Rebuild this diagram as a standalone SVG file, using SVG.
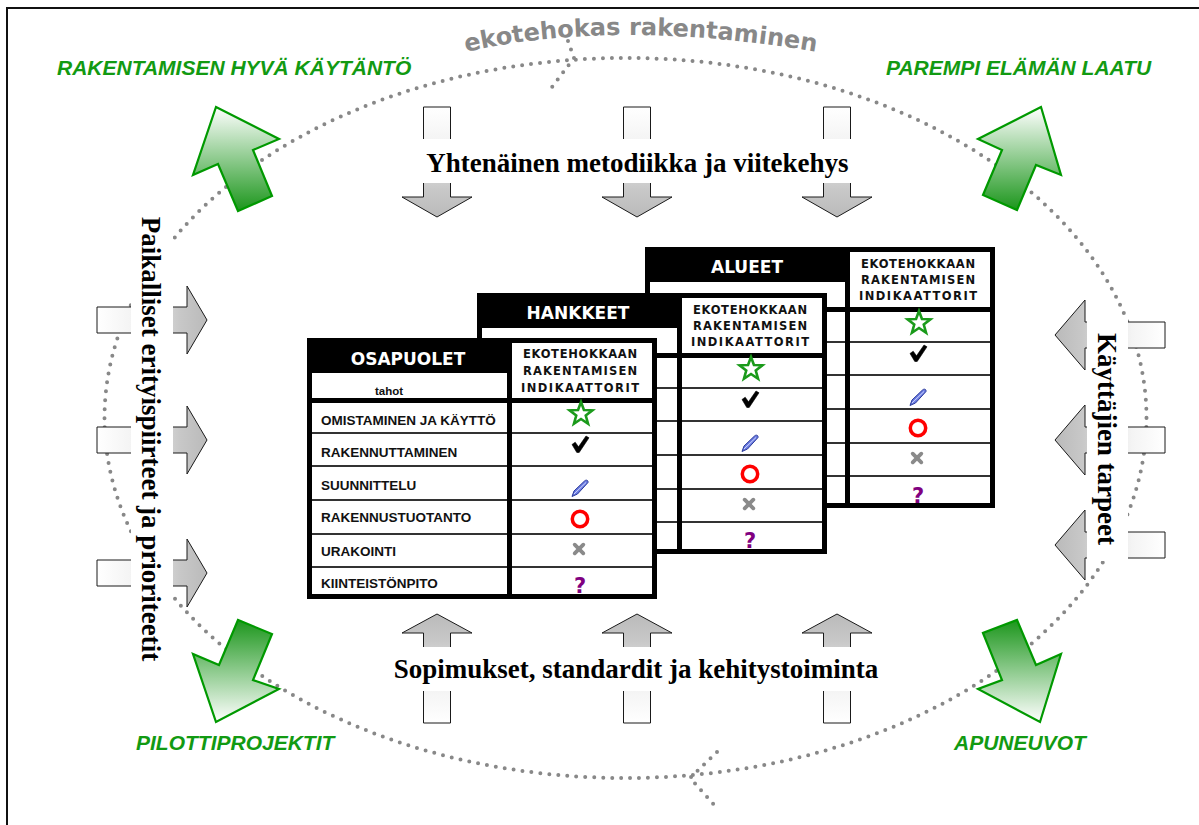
<svg xmlns="http://www.w3.org/2000/svg" width="1199" height="825" viewBox="0 0 1199 825">
<style>
.dot{fill:none;stroke:#888;stroke-width:4;stroke-linecap:round;stroke-dasharray:0 9}
.garr{stroke:#1a1a1a;stroke-width:1}
.grn{stroke:#009900;stroke-width:2.2}
.glabel{font-family:"Liberation Sans",Arial,sans-serif;font-weight:bold;font-style:italic;font-size:21px;fill:#129a12}
.big{font-family:"Liberation Serif","Times New Roman",serif;font-weight:bold;font-size:27px;fill:#000}
.hdr{font-family:"DejaVu Sans",sans-serif;font-weight:bold;font-size:17px;fill:#fff;text-anchor:middle}
.ind{font-family:"DejaVu Sans",sans-serif;font-weight:bold;font-size:11.5px;fill:#111;text-anchor:middle}
.row{font-family:"Liberation Sans",Arial,sans-serif;font-weight:bold;font-size:13.5px;fill:#111}
.q{font-family:"DejaVu Sans",sans-serif;font-weight:bold;font-size:21px;fill:#800080;text-anchor:middle}
.wbox{fill:#fff}
</style>
<defs>
<linearGradient id="gDown" x1="0" y1="0" x2="0" y2="1"><stop offset="0" stop-color="#fff"/><stop offset="0.3" stop-color="#f4f4f4"/><stop offset="0.75" stop-color="#c8c8c8"/><stop offset="1" stop-color="#bababa"/></linearGradient>
<linearGradient id="gUp" x1="0" y1="1" x2="0" y2="0"><stop offset="0" stop-color="#fff"/><stop offset="0.3" stop-color="#f4f4f4"/><stop offset="0.75" stop-color="#c8c8c8"/><stop offset="1" stop-color="#bababa"/></linearGradient>
<linearGradient id="gRight" x1="0" y1="0" x2="1" y2="0"><stop offset="0" stop-color="#fff"/><stop offset="0.3" stop-color="#f4f4f4"/><stop offset="0.75" stop-color="#c8c8c8"/><stop offset="1" stop-color="#bababa"/></linearGradient>
<linearGradient id="gLeft" x1="1" y1="0" x2="0" y2="0"><stop offset="0" stop-color="#fff"/><stop offset="0.3" stop-color="#f4f4f4"/><stop offset="0.75" stop-color="#c8c8c8"/><stop offset="1" stop-color="#bababa"/></linearGradient>
<linearGradient id="gGreenUp" x1="0" y1="0" x2="0" y2="1"><stop offset="0" stop-color="#fff"/><stop offset="1" stop-color="#1c961c"/></linearGradient>
<linearGradient id="gGreenDown" x1="0" y1="0" x2="0" y2="1"><stop offset="0" stop-color="#1c961c"/><stop offset="1" stop-color="#fff"/></linearGradient>
<g id="tframe">
<rect x="0" y="0" width="350" height="261" fill="#fff"/>
<rect x="0" y="0" width="350" height="65" fill="#000"/>
<rect x="5" y="35" width="195" height="25" fill="#fff"/>
<rect x="205" y="5" width="141" height="55" fill="#fff"/>
<path d="M0 95H350M0 128H350M0 162H350M0 196H350M0 229H350" stroke="#333" stroke-width="2.2" fill="none"/>
<rect x="200" y="60" width="5" height="201" fill="#000"/>
<rect x="2.5" y="2.5" width="345" height="256" fill="none" stroke="#000" stroke-width="5"/>
</g>
<g id="syms">
<polygon transform="translate(274,76)" points="0,-12 2.94,-4.05 11.41,-3.71 4.76,1.55 7.05,9.71 0,5 -7.05,9.71 -4.76,1.55 -11.41,-3.71 -2.94,-4.05" fill="#fff" stroke="#1a9a1a" stroke-width="2.6"/>
<path transform="translate(273,106)" d="M-8,0.5 L-4.8,-1.8 L-1.5,2.8 L6,-8 L9,-6.2 L-0.8,8.5 L-3.2,8.5 Z" fill="#000" stroke="#000" stroke-width="0.6" stroke-linejoin="round"/>
<g transform="translate(273,150)"><path d="M-8,8.5 L-6,3 L4.5,-7 C6,-8.5 8.5,-8 8,-5.5 L-2.5,6 Z" fill="#6a7ae0" stroke="#2a3a9a" stroke-width="1"/><path d="M-6,6 L6,-5.5" stroke="#d0d8ff" stroke-width="1"/></g>
<circle cx="273" cy="181" r="7.7" fill="none" stroke="#ff0000" stroke-width="3.5"/>
<path transform="translate(272,211)" d="M-4.3,-4.3 L4.3,4.3 M4.3,-4.3 L-4.3,4.3" stroke="#8a8a8a" stroke-width="3.8" stroke-linecap="round"/>
</g>
</defs>
<rect x="0" y="0" width="1199" height="825" fill="#fff"/>
<rect x="7" y="8" width="1200" height="830" fill="none" stroke="#111" stroke-width="2"/>

<g id="connectors">
<ellipse class="dot" cx="625.5" cy="418" rx="521" ry="360"/>
<path class="dot" d="M568,41 L574,58 L552,87"/>
<path class="dot" d="M717,752 L690,778 L717,808"/>
<path class="garr" fill="url(#gDown)" d="M423.5 107H450.5V197H472L437 217L402 197H423.5Z"/>
<path class="garr" fill="url(#gDown)" d="M623.5 107H650.5V197H672L637 217L602 197H623.5Z"/>
<path class="garr" fill="url(#gDown)" d="M823.5 107H850.5V197H872L837 217L802 197H823.5Z"/>
<path class="garr" fill="url(#gUp)" d="M423.5 723H450.5V633H472L437 614L402 633H423.5Z"/>
<path class="garr" fill="url(#gUp)" d="M623.5 723H650.5V633H672L637 614L602 633H623.5Z"/>
<path class="garr" fill="url(#gUp)" d="M823.5 723H850.5V633H872L837 614L802 633H823.5Z"/>
<path class="garr" fill="url(#gRight)" d="M97 307H187V286L207 320L187 354V333H97Z"/>
<path class="garr" fill="url(#gRight)" d="M97 427H187V406L207 440L187 474V453H97Z"/>
<path class="garr" fill="url(#gRight)" d="M97 560H187V539L207 573L187 607V586H97Z"/>
<path class="garr" fill="url(#gLeft)" d="M1165 322H1085V300L1055 335L1085 370V348H1165Z"/>
<path class="garr" fill="url(#gLeft)" d="M1165 427H1085V405L1055 440L1085 475V453H1165Z"/>
<path class="garr" fill="url(#gLeft)" d="M1165 532H1085V510L1055 545L1085 580V558H1165Z"/>
</g>

<g id="label-top">
<rect class="wbox" x="412" y="139" width="450" height="44"/>
<text class="big" x="637.5" y="172" text-anchor="middle">Yhtenäinen metodiikka ja viitekehys</text>
</g>
<g id="label-bottom">
<rect class="wbox" x="385" y="647" width="502" height="44"/>
<text class="big" x="636" y="678" text-anchor="middle">Sopimukset, standardit ja kehitystoiminta</text>
</g>
<g id="label-left">
<rect class="wbox" x="131" y="205" width="42" height="465"/>
<text class="big" transform="translate(142,439) rotate(90)" text-anchor="middle">Paikalliset erityispiirteet ja prioriteetit</text>
</g>
<g id="label-right">
<rect class="wbox" x="1087" y="318" width="41" height="243"/>
<text class="big" transform="translate(1098,439) rotate(90)" text-anchor="middle">Käyttäjien tarpeet</text>
</g>

<g id="title">
<path id="arc" d="M466,52 Q615,18 818,52" fill="none"/>
<text font-family="DejaVu Sans, sans-serif" font-weight="bold" font-size="24" fill="#888"><textPath href="#arc">ekotehokas rakentaminen</textPath></text>
</g>

<g id="green-tl">
<polygon class="grn" fill="url(#gGreenUp)" points="216,107 279,139 253,150 272,196 238,211 218,164 193,175"/>
<text class="glabel" x="57" y="75">RAKENTAMISEN HYVÄ KÄYTÄNTÖ</text>
</g>
<g id="green-tr">
<polygon class="grn" fill="url(#gGreenUp)" points="1041,107 978,139 1002,150 983,195 1017,210 1036,165 1061,175"/>
<text class="glabel" x="886" y="75">PAREMPI ELÄMÄN LAATU</text>
</g>
<g id="green-bl">
<polygon class="grn" fill="url(#gGreenDown)" points="238,620 219,665 193,654 216,722 279,689 253,680 272,634"/>
<text class="glabel" x="136" y="750">PILOTTIPROJEKTIT</text>
</g>
<g id="green-br">
<polygon class="grn" fill="url(#gGreenDown)" points="983,633 1002,680 978,689 1040,722 1061,654 1036,665 1017,620"/>
<text class="glabel" x="954" y="750">APUNEUVOT</text>
</g>

<g id="table-alueet" transform="translate(645,247)">
<use href="#tframe"/>
<text class="hdr" x="102" y="26">ALUEET</text>
<text class="ind" x="273" y="21" textLength="114" lengthAdjust="spacing">EKOTEHOKKAAN</text>
<text class="ind" x="273" y="37" textLength="114" lengthAdjust="spacing">RAKENTAMISEN</text>
<text class="ind" x="273" y="53" textLength="118" lengthAdjust="spacing">INDIKAATTORIT</text>
<use href="#syms"/>
<text class="q" x="273" y="256">?</text>
</g>
<g id="table-hankkeet" transform="translate(477,293)">
<use href="#tframe"/>
<text class="hdr" x="101" y="26">HANKKEET</text>
<text class="ind" x="273" y="21" textLength="114" lengthAdjust="spacing">EKOTEHOKKAAN</text>
<text class="ind" x="273" y="37" textLength="114" lengthAdjust="spacing">RAKENTAMISEN</text>
<text class="ind" x="273" y="53" textLength="118" lengthAdjust="spacing">INDIKAATTORIT</text>
<use href="#syms"/>
<text class="q" x="273" y="255">?</text>
</g>
<g id="table-osapuolet" transform="translate(307,338)">
<use href="#tframe"/>
<text class="hdr" x="101" y="27">OSAPUOLET</text>
<text x="82" y="57" font-family="Liberation Sans, Arial, sans-serif" font-weight="bold" font-size="11.5" fill="#111" text-anchor="middle">tahot</text>
<text class="ind" x="273" y="20" textLength="114" lengthAdjust="spacing">EKOTEHOKKAAN</text>
<text class="ind" x="273" y="37" textLength="114" lengthAdjust="spacing">RAKENTAMISEN</text>
<text class="ind" x="273" y="54" textLength="118" lengthAdjust="spacing">INDIKAATTORIT</text>
<text class="row" x="14" y="87">OMISTAMINEN JA KÄYTTÖ</text>
<text class="row" x="14" y="119">RAKENNUTTAMINEN</text>
<text class="row" x="14" y="152">SUUNNITTELU</text>
<text class="row" x="14" y="184">RAKENNUSTUOTANTO</text>
<text class="row" x="14" y="218">URAKOINTI</text>
<text class="row" x="14" y="250">KIINTEISTÖNPITO</text>
<use href="#syms"/>
<text class="q" x="273" y="255">?</text>
</g>
</svg>
